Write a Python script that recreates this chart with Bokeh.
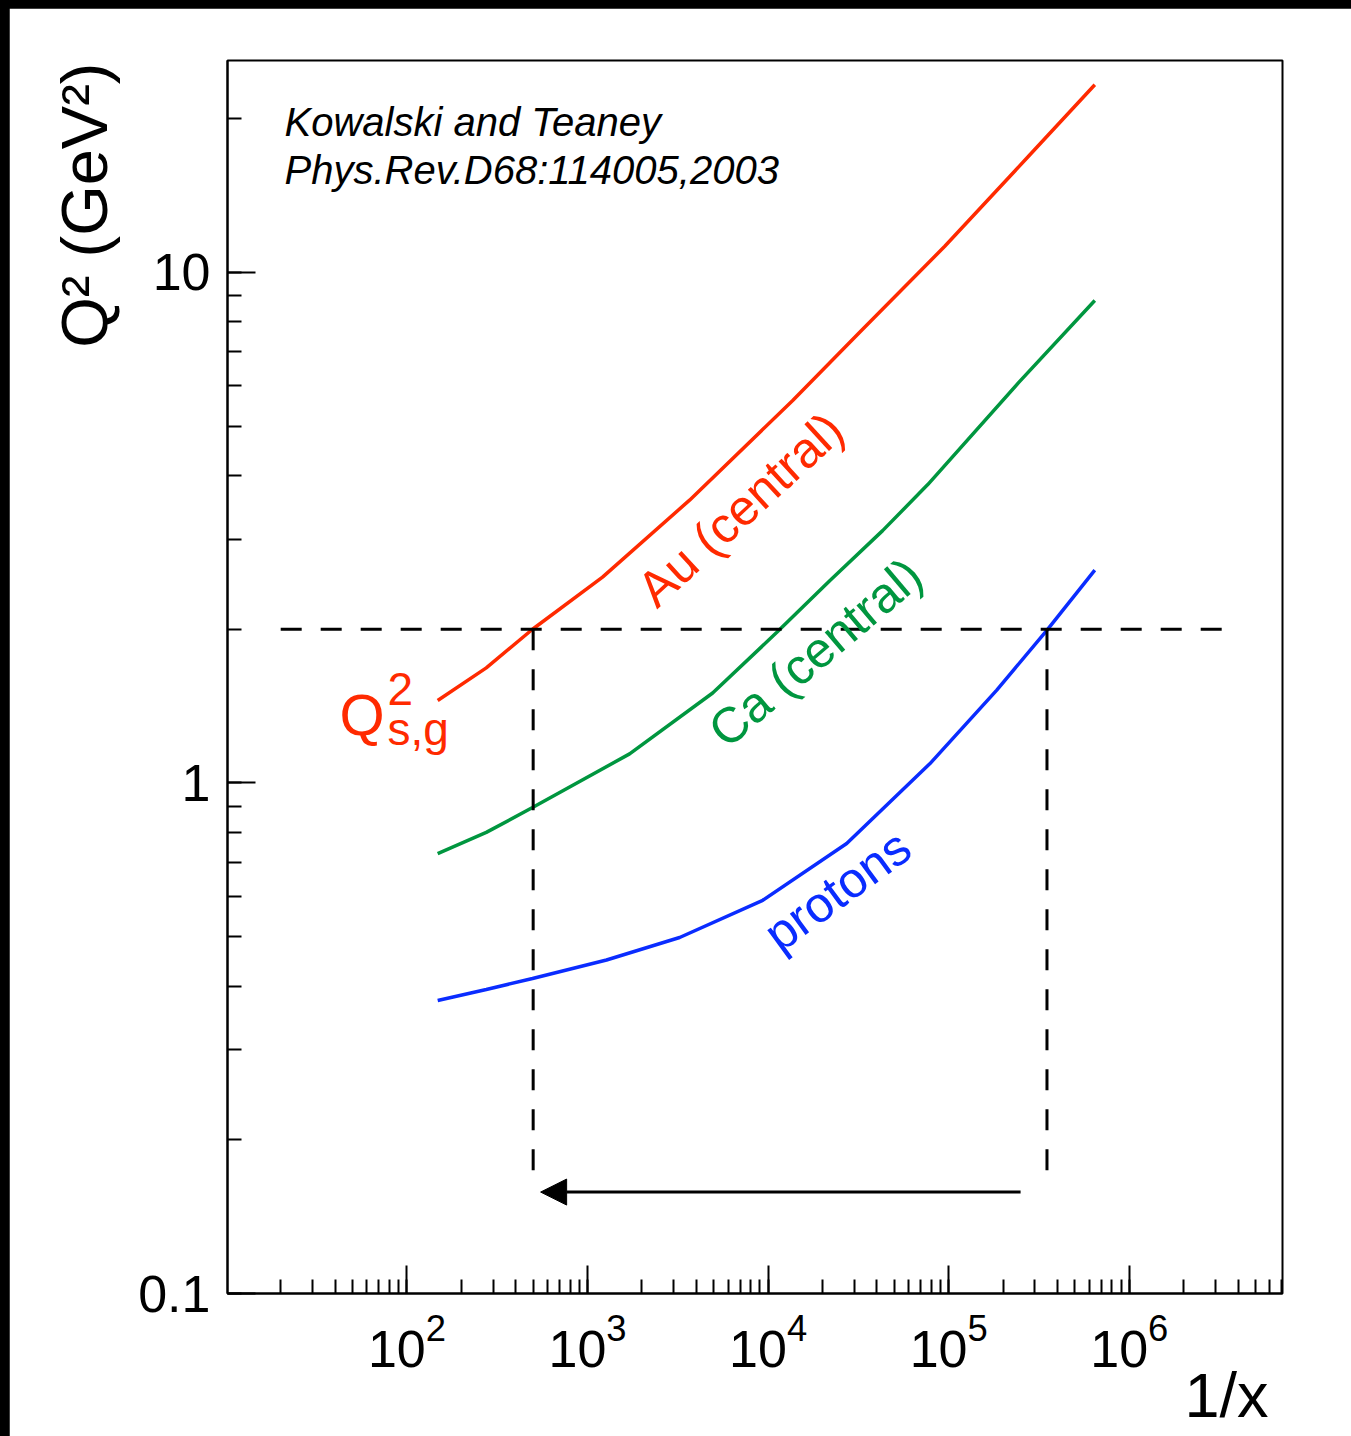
import math
from bokeh.plotting import figure
from bokeh.models import (Range1d, LogTicker, CustomJSTickFormatter, Label, Arrow,
                          NormalHead, GlobalInlineStyleSheet, Title)
from bokeh.embed import file_html
from bokeh.resources import INLINE

# ---- data (1/x , Q^2 in GeV^2) ----
x_au = [148, 275, 496, 1211, 3673, 13680, 32140, 95100, 277400, 644000]
q2_au = [1.45, 1.68, 2.0, 2.53, 3.58, 5.61, 7.63, 11.25, 16.9, 23.3]

x_ca = [148, 275, 496, 1710, 4930, 11140, 21930, 43060, 76570, 244400, 644000]
q2_ca = [0.727, 0.80, 0.895, 1.14, 1.50, 1.97, 2.49, 3.12, 3.84, 6.09, 8.81]

x_p = [148, 275, 496, 1274, 3236, 9333, 27230, 78530, 184500, 349300, 644000]
q2_p = [0.375, 0.394, 0.414, 0.450, 0.498, 0.589, 0.761, 1.09, 1.52, 1.99, 2.61]

# reference lines
q2_ref = 2.0
x_ref_line = [20, 4.0e6]
x_au_ref = 500
x_p_ref = 3.5e5
q2_drop = 0.166
arrow_x = [2.5e5, 550]
arrow_q2 = 0.158

RED = "#ff2a00"
GREEN = "#00963f"
BLUE = "#0a2cff"
FONT = "Liberation Sans"

p = figure(width=1342, height=1428, x_axis_type="log", y_axis_type="log",
           x_range=Range1d(10.15, 7.05e6), y_range=Range1d(0.1, 26),
           output_backend="svg", toolbar_location=None, title=None,
           min_border_left=218, min_border_right=69,
           min_border_top=52, min_border_bottom=143)

# black edges (top / left) of the original picture
p.stylesheets = [GlobalInlineStyleSheet(css="html, body { background: #000000; margin: 0; }")]
p.styles = {"margin-left": "9px", "margin-top": "8px"}

p.background_fill_color = "white"
p.border_fill_color = "white"
p.outline_line_color = "black"
p.outline_line_width = 2
p.xgrid.visible = False
p.ygrid.visible = False

p.xaxis.ticker = LogTicker(num_minor_ticks=10)
p.yaxis.ticker = LogTicker(num_minor_ticks=10)
p.yaxis.formatter = CustomJSTickFormatter(code="return Number(tick.toPrecision(3)).toString();")

for ax in (p.xaxis[0], p.yaxis[0]):
    ax.major_tick_in = 28
    ax.major_tick_out = 0
    ax.minor_tick_in = 14
    ax.minor_tick_out = 0
    ax.axis_line_width = 2
    ax.major_tick_line_width = 2
    ax.minor_tick_line_width = 2
    ax.axis_line_color = "black"
    ax.major_tick_line_color = "black"
    ax.minor_tick_line_color = "black"
    ax.major_label_text_font = FONT
    ax.major_label_text_font_size = "52px"
    ax.major_label_text_color = "black"
p.yaxis.major_label_standoff = 17
p.xaxis.major_label_standoff = 20

# x title: right end, below the tick labels
p.add_layout(Title(text="1/x", align="right", offset=14, vertical_align="top", standoff=-20,
                   text_font=FONT, text_font_size="63px", text_font_style="normal",
                   text_color="black"), "below")

# y title: top-aligned, left of the tick labels
p.add_layout(Title(text="Q² (GeV²)", align="right", offset=2, standoff=30,
                   text_font=FONT, text_font_size="65px", text_font_style="normal",
                   text_color="black"), "left")

# curves
p.line(x_au, q2_au, line_color=RED, line_width=3.5)
p.line(x_ca, q2_ca, line_color=GREEN, line_width=3.5)
p.line(x_p, q2_p, line_color=BLUE, line_width=3.5)

# dashed guides
p.line(x_ref_line, [q2_ref, q2_ref], line_color="black", line_width=3, line_dash="21 19")
p.line([x_au_ref, x_au_ref], [q2_ref, q2_drop], line_color="black", line_width=3, line_dash="21 19")
p.line([x_p_ref, x_p_ref], [q2_ref, q2_drop], line_color="black", line_width=3, line_dash="21 19")

p.add_layout(Arrow(end=NormalHead(size=26, fill_color="black", line_color="black", line_width=1),
                   x_start=arrow_x[0], y_start=arrow_q2, x_end=arrow_x[1], y_end=arrow_q2,
                   line_color="black", line_width=3))

# frame origin in page pixels
FX, FY = 227, 1293


def lab(px, py, text, size, color="black", angle=0.0, align="left",
        baseline="alphabetic", style="normal"):
    if baseline == "alphabetic":
        py -= 0.36 * size
    p.add_layout(Label(x=px - FX, y=FY - py, x_units="screen", y_units="screen",
                       text=text, text_font=FONT, text_font_size=f"{size}px",
                       text_color=color, angle=angle, text_align=align,
                       text_baseline=baseline, text_font_style=style))


# reference text
lab(284, 136, "Kowalski and Teaney", 40, style="italic")
lab(284, 184, "Phys.Rev.D68:114005,2003", 40, style="italic")

# Q^2_{s,g}
lab(339, 735, "Q", 58, color=RED)
lab(387, 705, "2", 46, color=RED)
lab(387, 745, "s,g", 46, color=RED)

# curve labels
lab(740, 509, "Au (central)", 50, color=RED, angle=math.radians(42.7), align="center", baseline="middle")
lab(815, 652, "Ca (central)", 50, color=GREEN, angle=math.radians(40.3), align="center", baseline="middle")
lab(837, 890, "protons", 50, color=BLUE, angle=math.radians(36.2), align="center", baseline="middle")

open("out.html", "w").write(file_html(p, INLINE))
